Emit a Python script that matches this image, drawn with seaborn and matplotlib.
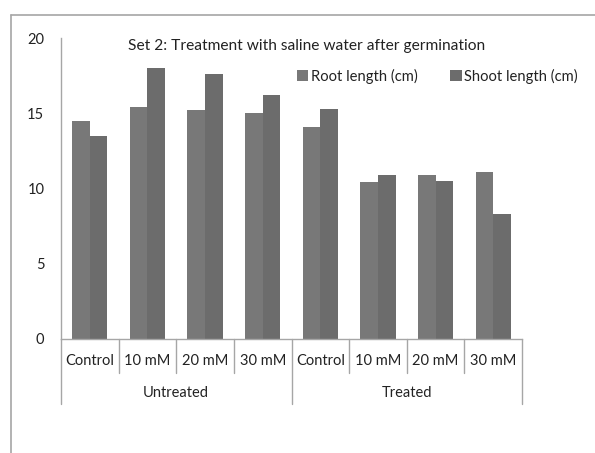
import matplotlib
matplotlib.use("Agg")
import matplotlib.pyplot as plt
import seaborn as sns
import pandas as pd
from matplotlib.lines import Line2D
from matplotlib.patches import Patch

groups = ["Untreated", "Treated"]
treatments = ["Control", "10 mM", "20 mM", "30 mM"]
root_length = [14.5, 15.4, 15.2, 15.0, 14.1, 10.4, 10.9, 11.1]
shoot_length = [13.5, 18.0, 17.6, 16.2, 15.3, 10.9, 10.5, 8.3]
series = ["Root length (cm)", "Shoot length (cm)"]
colors = ["#787878", "#6c6c6c"]

keys = [f"{g}|{t}" for g in groups for t in treatments]
rows = []
for k, r, s in zip(keys, root_length, shoot_length):
    rows.append({"key": k, "series": series[0], "value": r})
    rows.append({"key": k, "series": series[1], "value": s})
df = pd.DataFrame(rows)

sns.set_style("white")
plt.rcParams["font.family"] = ["Lato", "DejaVu Sans"]

W, H = 595, 453
fig = plt.figure(figsize=(W / 100, H / 100), dpi=100)
ax = fig.add_axes([61 / W, 1 - 339 / H, (522 - 61) / W, (339 - 38) / H])

sns.barplot(data=df, x="key", y="value", hue="series", order=keys,
            hue_order=series, palette=colors, width=0.61, saturation=1,
            edgecolor="none", linewidth=0, ax=ax, legend=False)

axc = "#a6a6a6"
tc = "#222222"
ax.set_xlim(-0.5, 7.5)
ax.set_ylim(0, 20)
ax.set_yticks([0, 5, 10, 15, 20])
ax.set_xlabel("")
ax.set_ylabel("")
for sp in ["top", "right"]:
    ax.spines[sp].set_visible(False)
for sp in ["left", "bottom"]:
    ax.spines[sp].set_color(axc)
    ax.spines[sp].set_linewidth(1.0)
ax.tick_params(axis="y", direction="out", length=5, color=axc, width=1,
               labelsize=10.5, pad=7, labelcolor=tc)
ax.set_xticks(range(len(keys)))
ax.set_xticklabels([t for g in groups for t in treatments], fontsize=10.5,
                   color=tc)
ax.tick_params(axis="x", length=0, pad=11)

trans = ax.get_xaxis_transform()
ah = 339 - 38
for i in range(len(keys) + 1):
    xb = i - 0.5
    depth = 65 if i % 4 == 0 else 34
    ax.plot([xb, xb], [0, -depth / ah], transform=trans, color=axc,
            lw=1.0, clip_on=False)
for gi, g in enumerate(groups):
    ax.text(gi * 4 + 1.5, -(393 - 339) / ah, g, transform=trans,
            ha="center", va="center", fontsize=10.5, color=tc)

fig.text(307 / W, 1 - 46 / H, "Set 2: Treatment with saline water after germination",
         ha="center", va="center", fontsize=11.2, color=tc)

handles = [Patch(facecolor=c, edgecolor="none") for c in colors]
fig.legend(handles, series, loc="center", bbox_to_anchor=(437 / W, 1 - 76 / H),
           ncol=2, frameon=False, fontsize=10.6, handlelength=0.8,
           handleheight=0.8, handletextpad=0.15, columnspacing=2.2,
           labelcolor=tc)

# outer frame
fig.add_artist(Line2D([11 / W, 1], [1 - 15 / H, 1 - 15 / H], color=axc, lw=1.2))
fig.add_artist(Line2D([11 / W, 11 / W], [0, 1 - 15 / H], color=axc, lw=1.2))

fig.savefig("out.png", dpi=100)
